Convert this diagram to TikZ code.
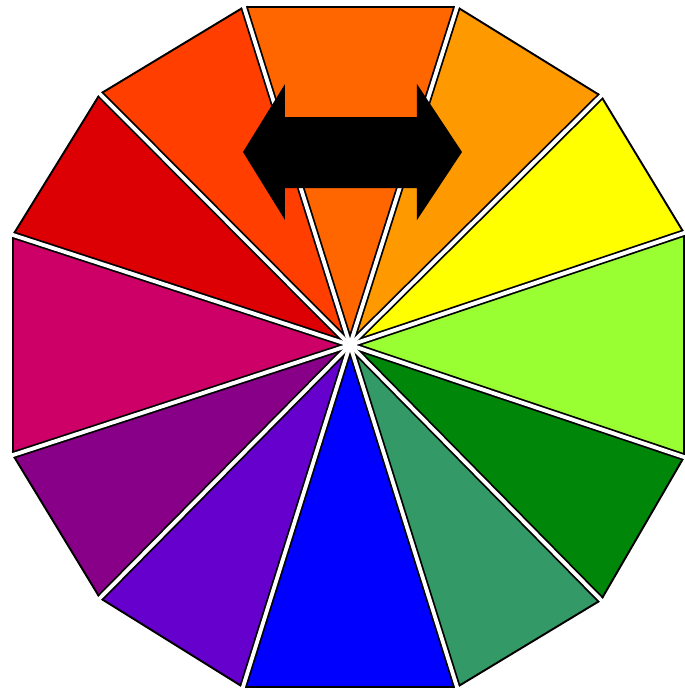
\documentclass[tikz,border=0pt]{standalone}
\begin{document}
\begin{tikzpicture}[x={(0.01cm,0)},y={(0,-0.01cm)},
  rim/.style={draw=black,line width=0.55pt,line join=miter},
  spokeblack/.style={draw=black,line width=2.1pt,line cap=butt},
  spokewhite/.style={draw=white,line width=1.1pt,line cap=butt,shorten >=-3pt},
  arrowshape/.style={fill=black}]
\definecolor{w0}{RGB}{255,102,0}
\definecolor{w1}{RGB}{255,153,0}
\definecolor{w2}{RGB}{255,255,0}
\definecolor{w3}{RGB}{153,255,51}
\definecolor{w4}{RGB}{0,135,10}
\definecolor{w5}{RGB}{51,153,102}
\definecolor{w6}{RGB}{0,0,255}
\definecolor{w7}{RGB}{102,0,204}
\definecolor{w8}{RGB}{135,0,135}
\definecolor{w9}{RGB}{204,0,102}
\definecolor{w10}{RGB}{220,0,5}
\definecolor{w11}{RGB}{255,62,0}
\useasboundingbox (0,0) rectangle (685,690);
\fill[white] (0,0) rectangle (685,690);
\coordinate (C) at (350,345);
\coordinate (V0) at (244,7);
\coordinate (V1) at (457,7);
\coordinate (V2) at (601,96);
\coordinate (V3) at (684,233);
\coordinate (V4) at (684,457);
\coordinate (V5) at (601,600);
\coordinate (V6) at (457,687);
\coordinate (V7) at (243,687);
\coordinate (V8) at (100,598);
\coordinate (V9) at (13,455);
\coordinate (V10) at (13,235);
\coordinate (V11) at (100,94);
\foreach \i/\j in {0/1,1/2,2/3,3/4,4/5,5/6,6/7,7/8,8/9,9/10,10/11,11/0}
  \fill[w\i] (C) -- (V\i) -- (V\j) -- cycle;
\draw[rim] (V0) -- (V1) -- (V2) -- (V3) -- (V4) -- (V5) -- (V6) -- (V7) -- (V8) -- (V9) -- (V10) -- (V11) -- cycle;
\foreach \i in {0,...,11}
  \draw[spokeblack] (C) -- (V\i);
\foreach \i in {0,...,11}
  \draw[spokewhite] (C) -- (V\i);
\fill[white] (C) circle (4);
\fill[arrowshape] (243,152) -- (285,84) -- (285,117) -- (417,117) -- (417,84) -- (462,152)
  -- (417,220) -- (417,188) -- (285,188) -- (285,220) -- cycle;
\end{tikzpicture}
\end{document}
